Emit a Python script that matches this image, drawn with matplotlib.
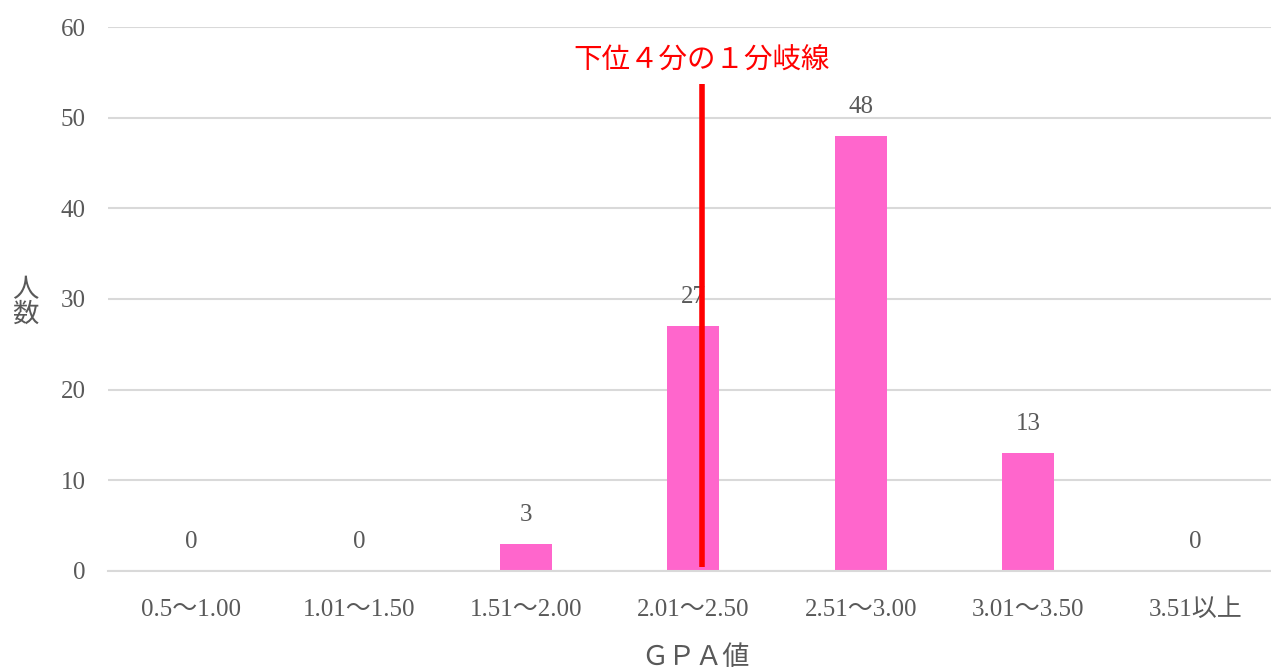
import matplotlib
matplotlib.use("Agg")
import matplotlib.pyplot as plt

plt.rcParams['font.family'] = ['Liberation Serif', 'Noto Sans CJK JP', 'DejaVu Sans']

categories = ["0.5～1.00", "1.01～1.50", "1.51～2.00", "2.01～2.50",
              "2.51～3.00", "3.01～3.50", "3.51以上"]
counts = [0, 0, 3, 27, 48, 13, 0]
y_ticks = [0, 10, 20, 30, 40, 50, 60]

# quartile divider: position on the category axis and its vertical extent
divider_x = 3.05
divider_y = (0.4, 53.7)
divider_label = "下位４分の１分岐線"

bar_color = "#ff66cc"
text_color = "#595959"
grid_color = "#d9d9d9"

fig = plt.figure(figsize=(12.71, 6.70), dpi=100)
ax = fig.add_axes([0.0848, 0.1478, 0.9215, 0.8119])

x = list(range(len(categories)))
ax.bar(x, counts, width=0.31, color=bar_color, zorder=2)

for xi, v in zip(x, counts):
    ax.annotate(str(v), (xi, v), xytext=(0, 13), textcoords="offset points",
                ha="center", va="bottom", fontsize=18, color=text_color, zorder=1)

ax.plot([divider_x, divider_x], divider_y, color="#ff0000", linewidth=4,
        solid_capstyle="butt", zorder=3)
ax.text(divider_x, 56.3, divider_label, ha="center", va="center",
        fontsize=20.5, color="#ff0000", family=['Noto Sans CJK JP'])

ax.set_xlim(-0.5, len(categories) - 0.5)
ax.set_ylim(0, 60)
ax.set_yticks(y_ticks)
ax.set_xticks(x)
ax.set_xticklabels(categories)
ax.tick_params(axis="both", length=0, labelsize=18, labelcolor=text_color)
ax.tick_params(axis="x", pad=20)
ax.tick_params(axis="y", pad=16)

ax.yaxis.grid(True, color=grid_color, linewidth=1.5, zorder=0)
ax.set_axisbelow(True)
for s in ["top", "right", "left"]:
    ax.spines[s].set_visible(False)
ax.spines["bottom"].set_color(grid_color)
ax.spines["bottom"].set_linewidth(1.5)

fig.text(0.547, 0.017, "ＧＰＡ値", ha="center", va="center",
         fontsize=19.5, color=text_color)
fig.text(0.020, 0.548, "人\n数", ha="center", va="center",
         fontsize=19, color=text_color, linespacing=1.0)

fig.savefig("out.png", dpi=100)
